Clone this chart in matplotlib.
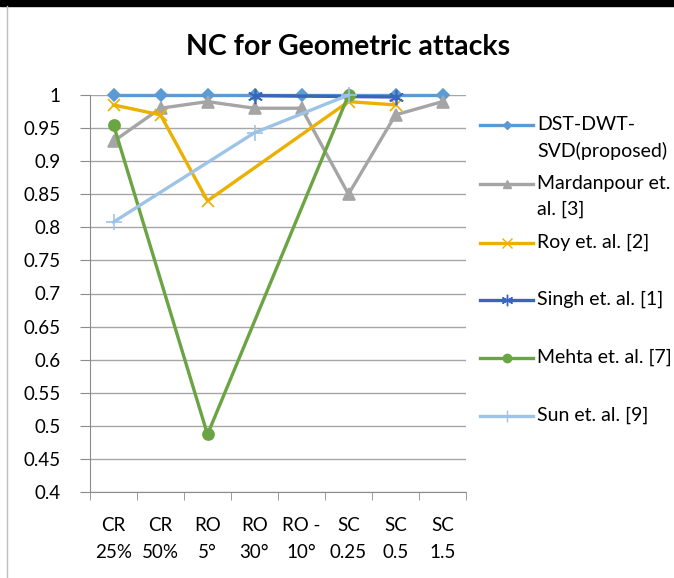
import numpy as np
import matplotlib.pyplot as plt
from matplotlib.lines import Line2D
from matplotlib.patches import Rectangle

plt.rcParams['font.family'] = ['Lato', 'DejaVu Sans']

categories = ['CR\n25%', 'CR\n50%', 'RO\n5°', 'RO\n30°', 'RO -\n10°', 'SC\n0.25', 'SC\n0.5', 'SC\n1.5']
nan = np.nan

dst = [1, 1, 1, 1, 1, 1, 1, 1]
mardanpour = [0.93, 0.98, 0.99, 0.98, 0.98, 0.85, 0.97, 0.99]
roy = [0.985, 0.97, 0.84, nan, nan, 0.99, 0.985, nan]
singh = [nan, nan, nan, 0.999, nan, nan, 0.997, nan]
mehta = [0.955, nan, 0.487, nan, nan, 1.0, nan, nan]
sun = [0.808, nan, nan, 0.943, nan, 1.0, nan, nan]

series = [
    ('DST-DWT-\nSVD(proposed)', dst, '#5B9BD5', 'D', 6),
    ('Mardanpour et.\nal. [3]', mardanpour, '#A5A5A5', '^', 8),
    ('Roy et. al. [2]', roy, '#EBB000', 'x', 9),
    ('Singh et. al. [1]', singh, '#3A66B8', (6, 2, 0), 11),
    ('Mehta et. al. [7]', mehta, '#6AA443', 'o', 8),
    ('Sun et. al. [9]', sun, '#9DC3E6', '+', 11),
]

fig = plt.figure(figsize=(6.74, 5.78), dpi=100)
ax = fig.add_axes([90 / 674, 1 - 492 / 578, 376 / 674, 397 / 578])

x = np.arange(len(categories))
for name, vals, col, mk, ms in series:
    v = np.array(vals, dtype=float)
    ok = ~np.isnan(v)
    ax.plot(x[ok], v[ok], color=col, lw=2.4, marker=mk, markersize=ms,
            markeredgecolor=col, markerfacecolor=col, mew=1.2, clip_on=False)

ax.set_xlim(-0.5, len(categories) - 0.5)
ax.set_ylim(0.4, 1.0)
yt = np.arange(0.4, 1.001, 0.05)
ax.set_yticks(yt)
ax.set_yticklabels(['%g' % round(t, 2) for t in yt], fontsize=13.5)
ax.set_xticks(x)
ax.set_xticklabels(categories, fontsize=13.5, linespacing=1.75)
ax.set_xticks(np.arange(-0.5, len(categories), 1), minor=True)
ax.tick_params(axis='x', which='major', length=0, pad=18)
ax.tick_params(axis='x', which='minor', length=6, color='#8C8C8C')
ax.tick_params(axis='y', length=7, color='#8C8C8C', pad=14)
ax.grid(axis='y', color='#A6A6A6', lw=1)
ax.set_axisbelow(True)
for s in ['top', 'right']:
    ax.spines[s].set_visible(False)
for s in ['left', 'bottom']:
    ax.spines[s].set_color('#8C8C8C')

fig.text(348 / 674, 1 - 47 / 578, 'NC for Geometric attacks',
         ha='center', va='center', fontsize=20.5, fontweight='bold')

# legend drawn by hand so the marker lines up with the first text line
ys = [125, 184, 243, 300, 358, 416]
for (name, vals, col, mk, ms), yp in zip(series, ys):
    yf = 1 - yp / 578
    fig.add_artist(Line2D([480 / 674, 533 / 674], [yf, yf], color=col, lw=2.4))
    fig.add_artist(Line2D([506.5 / 674], [yf], color=col, marker=mk, markersize=ms * 0.75,
                          markerfacecolor=col, markeredgecolor=col, mew=1.0))
    fig.text(537 / 674, 1 - (yp - 9) / 578, name, ha='left', va='top', fontsize=14,
             linespacing=1.6)

# screenshot frame
fig.add_artist(Rectangle((0, 1 - 6 / 578), 1, 6 / 578, color='black', transform=fig.transFigure))
fig.add_artist(Line2D([7 / 674, 7 / 674], [0, 1 - 6 / 578], color='#BFBFBF', lw=1))

fig.savefig('out.png', dpi=100)
